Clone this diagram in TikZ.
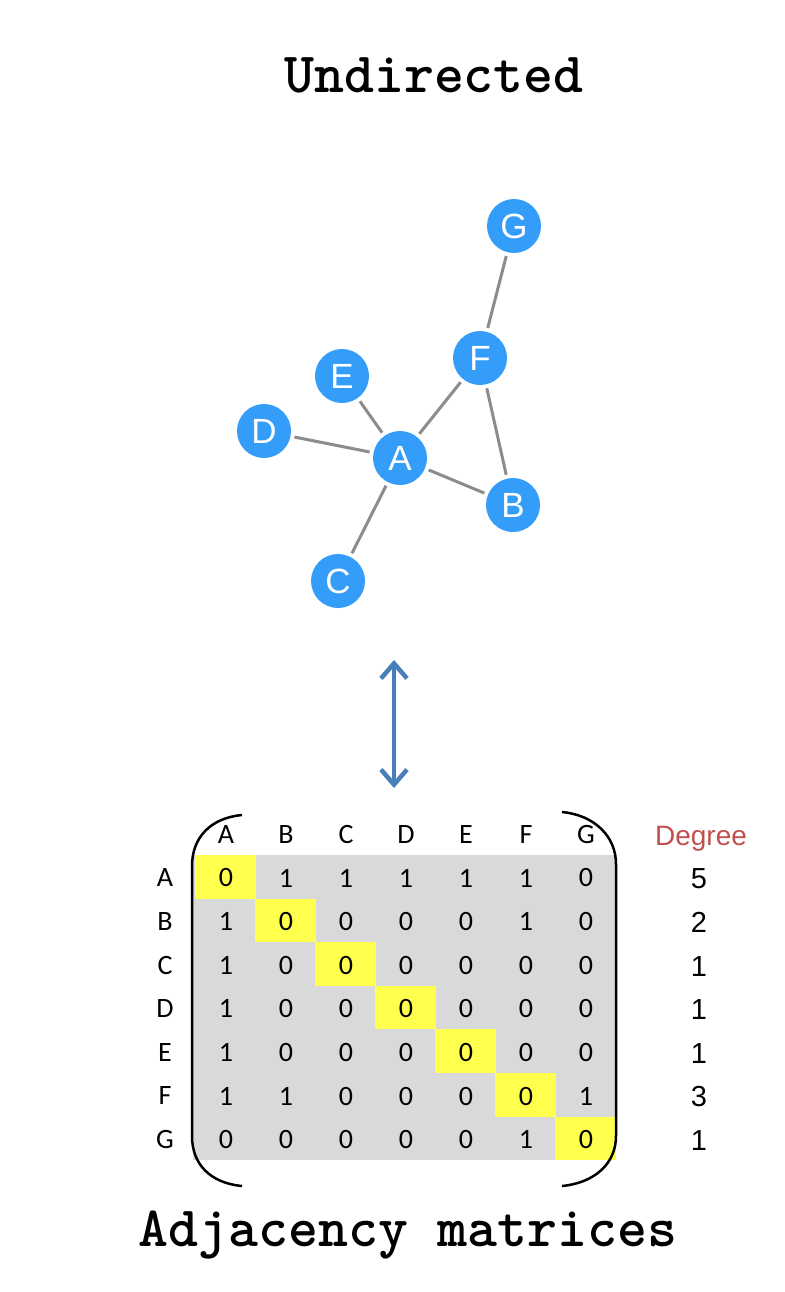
\documentclass[tikz,border=0pt]{standalone}
\usepackage{fontspec}
\newfontfamily\helv{Liberation Sans}
\newfontfamily\calib{Carlito}
\usetikzlibrary{arrows.meta}
\definecolor{nodeblue}{RGB}{52,157,249}
\definecolor{edgegray}{RGB}{140,140,140}
\definecolor{arrowblue}{RGB}{74,126,187}
\definecolor{cellgray}{RGB}{217,217,217}
\definecolor{cellyellow}{RGB}{255,255,77}
\definecolor{degred}{RGB}{192,80,77}
\begin{document}
\begin{tikzpicture}[x=1pt,y=-1pt,
  vtx/.style={circle, fill=nodeblue, minimum size=54pt, inner sep=0pt, outer sep=4pt,
    text=white, font=\helv\fontsize{35}{35}\selectfont},
  edge/.style={draw=edgegray, line width=3pt},
  celltxt/.style={font=\calib\fontsize{28}{28}\selectfont, inner sep=0pt},
  degtxt/.style={font=\helv\fontsize{29}{29}\selectfont, inner sep=0pt},
  bigtitle/.style={font=\ttfamily\bfseries\fontsize{57}{57}\selectfont, inner sep=0pt, anchor=base},
  brack/.style={draw=black, line width=2.5pt},
  dblarrow/.style={draw=arrowblue, line width=4.5pt,
    {Straight Barb[length=15pt,width=26pt]}-{Straight Barb[length=15pt,width=26pt]}}
]
\useasboundingbox (0,0) rectangle (784,1292);

% titles
\node[bigtitle] (title) at (434,93) {Undirected};
\node[bigtitle] (subtitle) at (408,1246) {Adjacency matrices};

% graph
\node[vtx] (G) at (514,226) {G};
\node[vtx] (F) at (480,358) {F};
\node[vtx] (E) at (342,376) {E};
\node[vtx] (D) at (264,431) {D};
\node[vtx] (A) at (400,458) {A};
\node[vtx] (B) at (513,505) {B};
\node[vtx] (C) at (338,581) {C};
\draw[edge] (A) -- (D);
\draw[edge] (A) -- (E);
\draw[edge] (A) -- (F);
\draw[edge] (A) -- (B);
\draw[edge] (A) -- (C);
\draw[edge] (F) -- (B);
\draw[edge] (F) -- (G);

% double arrow
\coordinate (arrtop) at (394,660);
\coordinate (arrbot) at (394,788);
\draw[dblarrow] (arrtop) -- (arrbot);

% matrix background
\fill[cellgray] (193,855) rectangle (615,1160);
\foreach \i in {0,...,6}{
  \fill[cellyellow] ({195+60*\i},{855+43.6*\i}) rectangle ({255.5+60*\i},{898.6+43.6*\i});
}

% headers and labels
\foreach \L [count=\j from 0] in {A,B,C,D,E,F,G}{
  \node[celltxt] (col\L) at ({226+60*\j},835) {\L};
  \node[celltxt] (row\L) at (165,{878+43.6*\j}) {\L};
}

% entries
\foreach \r [count=\i from 0] in {{0,1,1,1,1,1,0},{1,0,0,0,0,1,0},{1,0,0,0,0,0,0},{1,0,0,0,0,0,0},{1,0,0,0,0,0,0},{1,1,0,0,0,0,1},{0,0,0,0,0,1,0}}{
  \foreach \v [count=\j from 0] in \r {
    \node[celltxt] (cell-\i-\j) at ({226+60*\j},{878+43.6*\i}) {\v};
  }
}

% degrees
\node[font=\helv\fontsize{28}{28}\selectfont, text=degred, inner sep=0pt, anchor=base] (deghead) at (701,845) {Degree};
\foreach \d [count=\i from 0] in {5,2,1,1,1,3,1}{
  \node[degtxt] (deg-\i) at (699,{879+43.6*\i}) {\d};
}

% brackets
\draw[brack] (242,815) .. controls (210,818) and (192,838) .. (192,866) -- (192,1136)
  .. controls (192,1164) and (210,1183) .. (242,1186);
\draw[brack] (562,812) .. controls (594,815) and (616,836) .. (616,864) -- (616,1136)
  .. controls (616,1164) and (594,1183) .. (562,1186);
\end{tikzpicture}
\end{document}
